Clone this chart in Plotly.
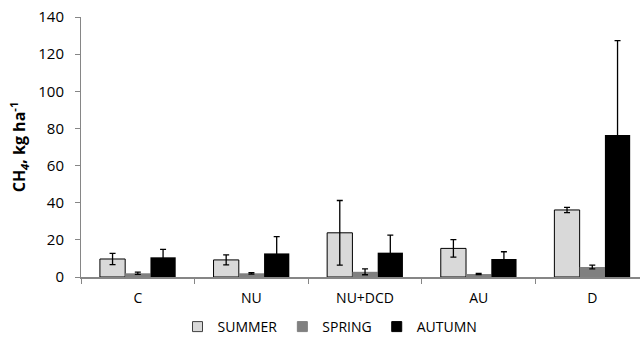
import plotly.graph_objects as go

# Treatments and seasonal CH4 emissions (kg ha-1), mean and error
treatments = ["C", "NU", "NU+DCD", "AU", "D"]

summer = [9.7, 9.2, 23.8, 15.4, 36.1]
summer_err = [3.0, 2.7, 17.4, 4.7, 1.4]

spring = [2.0, 2.0, 2.8, 1.6, 5.4]
spring_err = [0.6, 0.4, 1.6, 0.3, 1.0]

autumn = [10.6, 12.7, 13.1, 9.7, 76.5]
autumn_err = [4.3, 9.0, 9.5, 3.9, 50.8]

y_ticks = [0, 20, 40, 60, 80, 100, 120, 140]

FONT = "Open Sans"

series = [
    ("SUMMER", summer, summer_err, "#D9D9D9", "black", 1),
    ("SPRING", spring, spring_err, "#808080", "#808080", 0),
    ("AUTUMN", autumn, autumn_err, "black", "black", 0),
]

fig = go.Figure()
for name, vals, errs, fill, edge, lw in series:
    fig.add_trace(go.Bar(
        name=name, x=treatments, y=vals, showlegend=False,
        error_y=dict(type="data", array=errs, visible=True,
                     color="black", thickness=1.3, width=3),
        marker=dict(color=fill, line=dict(color=edge, width=lw)),
    ))
    # small square key for the legend
    fig.add_trace(go.Scatter(
        name=name, x=[None], y=[None], mode="markers",
        marker=dict(symbol="square", size=10, color=fill,
                    line=dict(color="#404040" if lw else fill, width=1)),
        hoverinfo="skip",
    ))

fig.update_layout(
    width=640, height=342,
    margin=dict(l=81, r=0, t=17, b=65),
    paper_bgcolor="white", plot_bgcolor="white",
    barmode="group", bargap=0.333, bargroupgap=0,
    font=dict(family=FONT, size=14, color="black"),
    showlegend=True,
    legend=dict(
        orientation="h", xref="container", yref="container",
        x=330 / 640, xanchor="center", y=15 / 342, yanchor="middle",
        font=dict(family=FONT, size=14, color="black"),
        itemwidth=30, traceorder="normal", tracegroupgap=0,
    ),
)

fig.update_xaxes(
    type="category",
    range=[-0.5, 4.42],
    showline=True, linecolor="#868686", linewidth=1.5,
    ticks="outside", tickson="boundaries", ticklen=5,
    tickcolor="#868686", tickwidth=1,
    ticklabelstandoff=7,
    showgrid=False, zeroline=False,
    tickfont=dict(family=FONT, size=14, color="black"),
)

fig.update_yaxes(
    range=[0, 140],
    tickvals=y_ticks,
    showline=True, linecolor="#868686", linewidth=1,
    ticks="outside", ticklen=5, tickcolor="#868686", tickwidth=1,
    ticklabelstandoff=8,
    showgrid=False, zeroline=False,
    tickfont=dict(family=FONT, size=15, color="black"),
    title=dict(
        text="<b>CH<sub><i>4</i></sub>, kg ha<sup>-1</sup></b>",
        font=dict(family=FONT, size=16, color="black"),
        standoff=8,
    ),
)

fig.write_html("out.html")
